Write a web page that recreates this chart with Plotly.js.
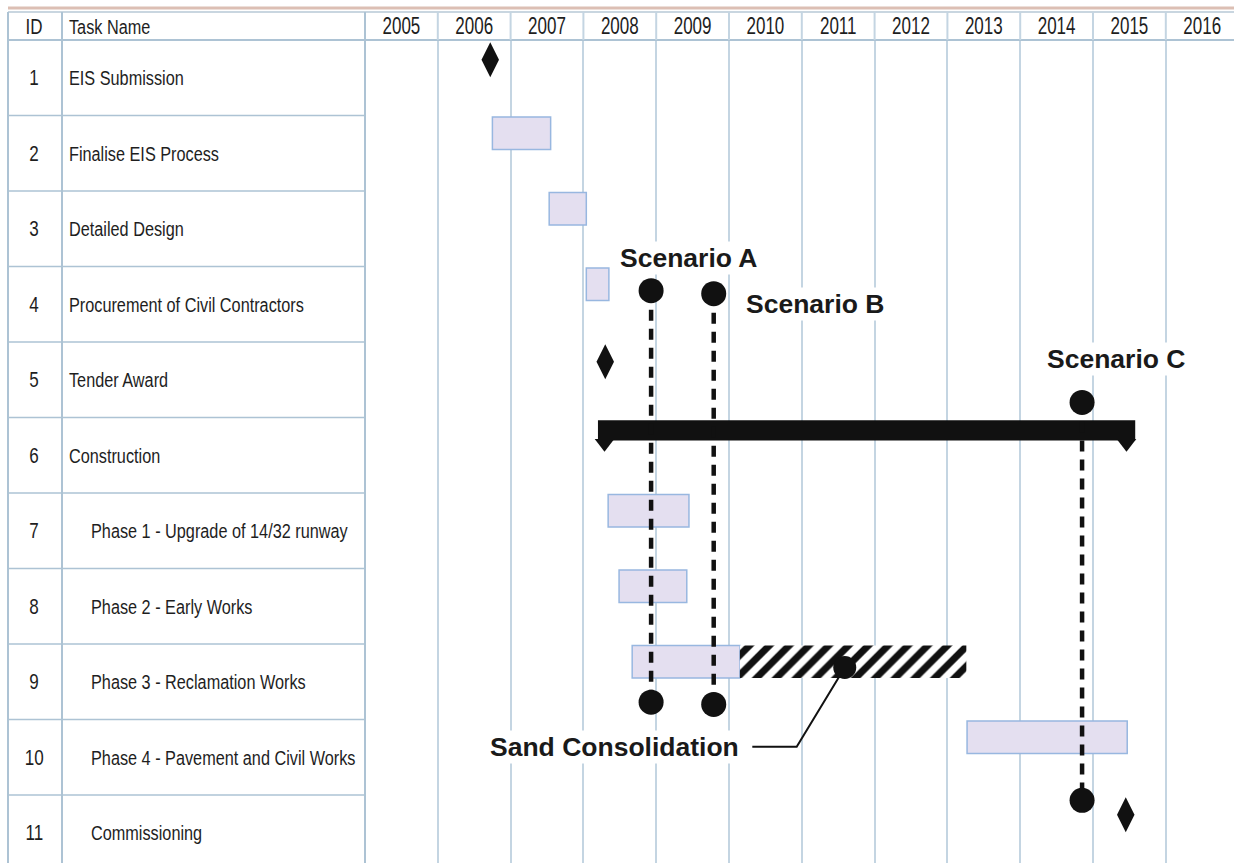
<!DOCTYPE html>
<html>
<head>
<meta charset="utf-8">
<script src="https://cdn.plot.ly/plotly-3.0.1.min.js"></script>
<style>html,body{margin:0;padding:0;background:#fff;}#chart{width:1234px;height:863px;}</style>
</head>
<body>
<div id="chart"></div>
<script>
// ---------- DATA ----------
const yearLabels = ['2005','2006','2007','2008','2009','2010','2011','2012','2013','2014','2015','2016'];
const taskIds = [1,2,3,4,5,6,7,8,9,10,11];
const taskNames = ['EIS Submission','Finalise EIS Process','Detailed Design','Procurement of Civil Contractors',
  'Tender Award','Construction','Phase 1 - Upgrade of 14/32 runway','Phase 2 - Early Works',
  'Phase 3 - Reclamation Works','Phase 4 - Pavement and Civil Works','Commissioning'];
const outlineLevel = [1,1,1,1,1,1,2,2,2,2,2];
const taskType = ['milestone','task','task','task','milestone','summary','task','task','task','task','milestone'];
const taskStart = [2006.72, 2006.75, 2007.53, 2008.04, 2008.30, 2008.20, 2008.34, 2008.49, 2008.67, 2013.27, 2015.45];
const taskEnd   = [2006.72, 2007.55, 2008.04, 2008.35, 2008.30, 2015.58, 2009.45, 2009.42, 2010.15, 2015.47, 2015.45];
// hatched extension (Sand Consolidation)
const sandRow = [9];
const sandStart = [2010.15];
const sandEnd = [2013.26];
const sandPoint = [2011.59];
// scenarios
const scenarioNames = ['Scenario A','Scenario B','Scenario C'];
const scenarioDate = [2008.93, 2009.79, 2014.85];
const scenarioTopRow = [3.82, 3.86, 5.30];
const scenarioBottomRow = [9.27, 9.30, 10.57];

// ---------- STYLE / LAYOUT ----------
const NARROW = '"Liberation Sans", Arial, Helvetica, sans-serif';
const BOLD = '"Liberation Sans", Arial, Helvetica, sans-serif';
const SQUEEZE = 0.775, SQUEEZE_YEAR = 0.74;
const TXT = '#1e1e1e';
const GRID = '#c4d5e2';
const TLINE = '#adc3d4';
const L = 365, W = 1234, H = 863, T = 40;
const plotW = W - L;
const pxPerYear = 72.8;
const xMin = 2005, xMax = 2005 + plotW / pxPerYear;
const yTop = 0.5, yBot = 0.5 + (H - T) / 75.5;
const px2paper = p => (p - L) / plotW;
const BAR_OFF = -0.265, MS_OFF = -0.24;

const traces = [];
const isTask = taskType.map(t => t === 'task');
const tIdx = taskIds.map((d,i)=>i).filter(i => isTask[i]);
traces.push({
  type: 'bar', orientation: 'h',
  y: tIdx.map(i => taskIds[i] + BAR_OFF),
  base: tIdx.map(i => taskStart[i]),
  x: tIdx.map(i => taskEnd[i] - taskStart[i]),
  width: 0.43,
  marker: {color: '#e4dff0', line: {color: '#98b7e0', width: 1.5}},
  hoverinfo: 'skip'
});
traces.push({
  type: 'bar', orientation: 'h',
  y: sandRow.map(r => r + BAR_OFF),
  base: sandStart,
  x: sandEnd.map((e,i) => e - sandStart[i]),
  width: 0.43,
  marker: {color: '#ffffff', line: {width: 0},
    pattern: {shape: '/', fgcolor: '#111111', bgcolor: '#ffffff', size: 14, solidity: 0.5}},
  hoverinfo: 'skip'
});
const sIdx = taskIds.map((d,i)=>i).filter(i => taskType[i] === 'summary');
traces.push({
  type: 'bar', orientation: 'h',
  y: sIdx.map(i => taskIds[i] - 0.33),
  base: sIdx.map(i => taskStart[i]),
  x: sIdx.map(i => taskEnd[i] - taskStart[i]),
  width: 0.27,
  marker: {color: '#111111', line: {width: 0}},
  hoverinfo: 'skip'
});
traces.push({
  type: 'scatter', mode: 'markers',
  x: sIdx.flatMap(i => [taskStart[i] + 0.09, taskEnd[i] - 0.12]),
  y: sIdx.flatMap(i => [taskIds[i] - 0.16, taskIds[i] - 0.16]),
  marker: {symbol: 'triangle-down', size: 17, color: '#111111'},
  hoverinfo: 'skip'
});
const mIdx = taskIds.map((d,i)=>i).filter(i => taskType[i] === 'milestone');
traces.push({
  type: 'scatter', mode: 'markers',
  x: mIdx.map(i => taskStart[i]),
  y: mIdx.map(i => taskIds[i] + MS_OFF),
  marker: {symbol: 'diamond-tall', size: 25, color: '#111111'},
  hoverinfo: 'skip'
});
scenarioDate.forEach((d, k) => {
  traces.push({
    type: 'scatter', mode: 'lines',
    x: [d, d], y: [scenarioTopRow[k], scenarioBottomRow[k]],
    line: {color: '#111111', width: 4.5, dash: '11px,8px'},
    hoverinfo: 'skip'
  });
});
traces.push({
  type: 'scatter', mode: 'markers',
  x: scenarioDate.concat(scenarioDate),
  y: scenarioTopRow.concat(scenarioBottomRow),
  marker: {size: 25, color: '#111111'},
  hoverinfo: 'skip'
});
traces.push({
  type: 'scatter', mode: 'lines',
  x: [sandPoint[0], 2010.93, 2010.32],
  y: [sandRow[0] - 0.19, 9.86, 9.86],
  line: {color: '#111111', width: 2},
  hoverinfo: 'skip'
});
traces.push({
  type: 'scatter', mode: 'markers',
  x: sandPoint, y: sandRow.map(r => r - 0.19),
  marker: {size: 23, color: '#111111'},
  hoverinfo: 'skip'
});

// ---------- TABLE / GRID SHAPES ----------
const shapes = [];
const xTL = px2paper(8), xDiv = px2paper(62);
const headerTopPaper = (H - 12) / (H - T);
shapes.push({type:'line', xref:'paper', yref:'paper', x0:xTL, x1:1.01, y0:(H-8)/(H-T), y1:(H-8)/(H-T), line:{color:'#dcbfb4', width:3}});
shapes.push({type:'line', xref:'paper', yref:'paper', x0:xTL, x1:1.01, y0:headerTopPaper, y1:headerTopPaper, line:{color:'#b7c9d6', width:1.5}});
shapes.push({type:'line', xref:'paper', yref:'paper', x0:xTL, x1:1.01, y0:1, y1:1, line:{color:TLINE, width:2}});
[xTL, xDiv, 0].forEach(x => shapes.push({type:'line', xref:'paper', yref:'paper', x0:x, x1:x, y0:0, y1:headerTopPaper, line:{color:TLINE, width:2}}));
for (let r = 1; r <= taskIds.length; r++) {
  shapes.push({type:'line', xref:'paper', yref:'y', x0:xTL, x1:0, y0:r+0.5, y1:r+0.5, line:{color:TLINE, width:1.5}});
}
const yearBounds = yearLabels.map(y => +y).concat([+yearLabels[yearLabels.length-1] + 1]).slice(1);
yearBounds.forEach(b => shapes.push({type:'line', xref:'x', yref:'paper', x0:b, x1:b, y0:1, y1:headerTopPaper, line:{color:GRID, width:2}}));

// ---------- ANNOTATIONS ----------
const ann = [];
const hdrY = (H - 27) / (H - T);
const tFont = {family:NARROW, size:21, color:TXT};
ann.push({xref:'paper', yref:'paper', x:px2paper(34), y:hdrY, text:'ID', showarrow:false, xanchor:'center', yanchor:'middle', align:'center', font:{family:NARROW, size:22, color:TXT}});
ann.push({xref:'paper', yref:'paper', x:px2paper(67), y:hdrY, text:'Task Name', showarrow:false, xanchor:'left', yanchor:'middle', align:'left', font:tFont});
taskIds.forEach((id, i) => {
  ann.push({xref:'paper', yref:'y', x:px2paper(34), y:id, text:String(id), showarrow:false, xanchor:'center', yanchor:'middle', align:'center', font:{family:NARROW, size:22, color:TXT}});
  ann.push({xref:'paper', yref:'y', x:px2paper(outlineLevel[i] === 1 ? 67 : 89), y:id, text:taskNames[i], showarrow:false, xanchor:'left', yanchor:'middle', align:'left', font:tFont});
});
const nTable = ann.length;
const labFont = {family: BOLD, size: 26.5, color: '#1a1a1a'};
const scenLabelPos = [[2009.44, 3.39], [2011.18, 4.00], [2015.32, 4.72]];
scenarioNames.forEach((n, k) => {
  ann.push({xref:'x', yref:'y', x:scenLabelPos[k][0], y:scenLabelPos[k][1], text:'<b>'+n+'</b>', showarrow:false, xanchor:'center', yanchor:'middle', bgcolor:'#ffffff', font:labFont});
});
ann.push({xref:'x', yref:'y', x:2010.17, y:9.86, text:'<b>Sand Consolidation</b>', showarrow:false, xanchor:'right', yanchor:'middle', bgcolor:'#ffffff', font:labFont});

const layout = {
  width: W, height: H,
  margin: {l: L, r: 0, t: T, b: 0, pad: 0},
  paper_bgcolor: '#ffffff', plot_bgcolor: '#ffffff',
  showlegend: false, hovermode: false, barmode: 'overlay',
  xaxis: {
    range: [xMin, xMax], side: 'top', fixedrange: true,
    tickmode: 'array', tickvals: yearLabels.map(y => +y + 0.5), ticktext: yearLabels,
    ticks: '', ticklen: 0, showgrid: false, zeroline: false, showline: false,
    tickfont: {family: NARROW, size: 23, color: TXT},
    minor: {tickmode: 'array', tickvals: yearBounds, showgrid: true, gridcolor: GRID, gridwidth: 2, ticks: ''}
  },
  yaxis: {range: [yBot, yTop], visible: false, showgrid: false, zeroline: false, fixedrange: true},
  shapes: shapes,
  annotations: ann
};

// condensed look: squeeze table and header texts horizontally around their anchor
function squeeze(el, s) {
  const x = parseFloat(el.getAttribute('x')) || 0;
  const prev = el.getAttribute('transform') || '';
  el.setAttribute('transform', prev + ' translate(' + x + ',0) scale(' + s + ',1) translate(' + (-x) + ',0)');
}
Plotly.newPlot('chart', traces, layout, {displayModeBar: false, staticPlot: true}).then(gd => {
  gd.querySelectorAll('g.annotation').forEach(g => {
    const idx = +g.getAttribute('data-index');
    if (idx < nTable) g.querySelectorAll('text').forEach(t => squeeze(t, SQUEEZE));
  });
  gd.querySelectorAll('g.xtick text').forEach(t => squeeze(t, SQUEEZE_YEAR));
});
</script>
</body>
</html>
